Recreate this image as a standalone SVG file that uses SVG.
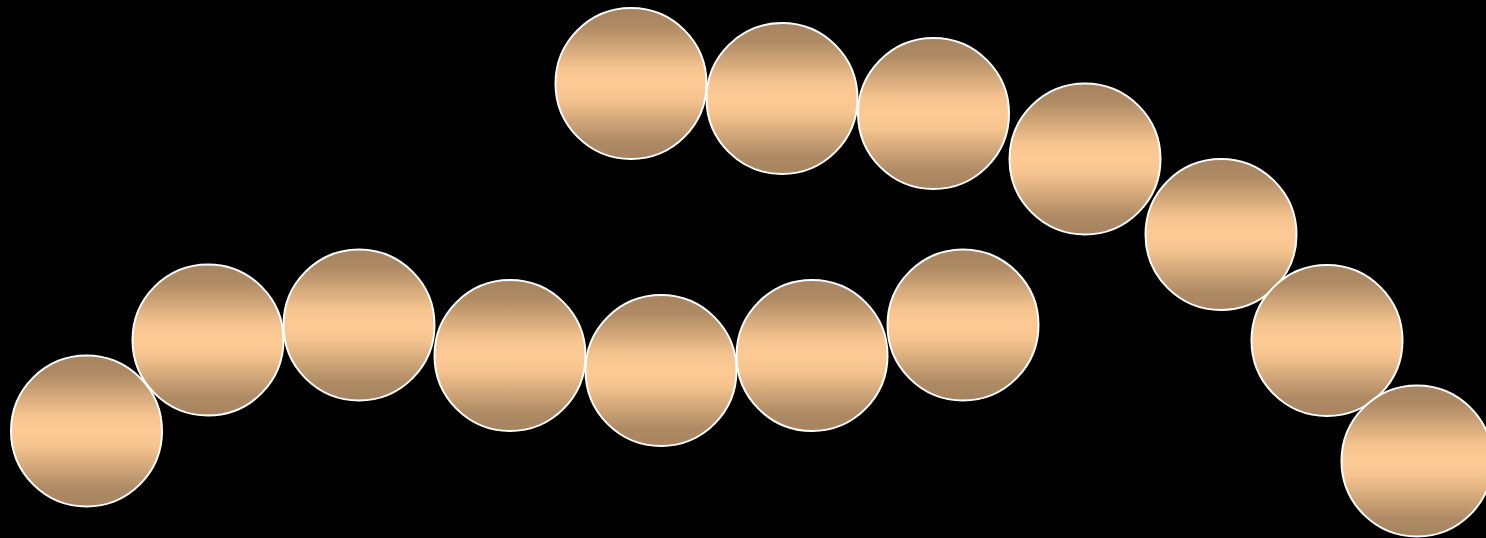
<svg xmlns="http://www.w3.org/2000/svg" width="1486" height="538" viewBox="0 0 1486 538">
<defs>
<linearGradient id="g" x1="0" y1="0" x2="0" y2="1">
<stop offset="0" stop-color="#a6835f"/>
<stop offset="0.12" stop-color="#ae8a64"/>
<stop offset="0.4" stop-color="#f6c48f"/>
<stop offset="0.5" stop-color="#fdca96"/>
<stop offset="0.6" stop-color="#f6c48f"/>
<stop offset="0.88" stop-color="#ae8a64"/>
<stop offset="1" stop-color="#a6835f"/>
</linearGradient>
<style>.c{fill:url(#g);stroke:#ffffff;stroke-width:2}</style>
</defs>
<rect width="1486" height="538" fill="#000000"/>
<g id="n1"><circle class="c" cx="86.5" cy="431" r="75.5"/></g>
<g id="n2"><circle class="c" cx="208" cy="340" r="75.5"/></g>
<g id="n3"><circle class="c" cx="359" cy="325" r="75.5"/></g>
<g id="n4"><circle class="c" cx="510" cy="355.5" r="75.5"/></g>
<g id="n5"><circle class="c" cx="661" cy="370.5" r="75.5"/></g>
<g id="n6"><circle class="c" cx="812" cy="355.5" r="75.5"/></g>
<g id="n7"><circle class="c" cx="963" cy="325" r="75.5"/></g>
<g id="n8"><circle class="c" cx="631" cy="83.5" r="75.5"/></g>
<g id="n9"><circle class="c" cx="782" cy="98.5" r="75.5"/></g>
<g id="n10"><circle class="c" cx="933.5" cy="113.5" r="75.5"/></g>
<g id="n11"><circle class="c" cx="1085" cy="159" r="75.5"/></g>
<g id="n12"><circle class="c" cx="1221" cy="234.5" r="75.5"/></g>
<g id="n13"><circle class="c" cx="1327" cy="340.5" r="75.5"/></g>
<g id="n14"><circle class="c" cx="1417" cy="461" r="75.5"/></g>
<g id="connectors"></g>
</svg>
